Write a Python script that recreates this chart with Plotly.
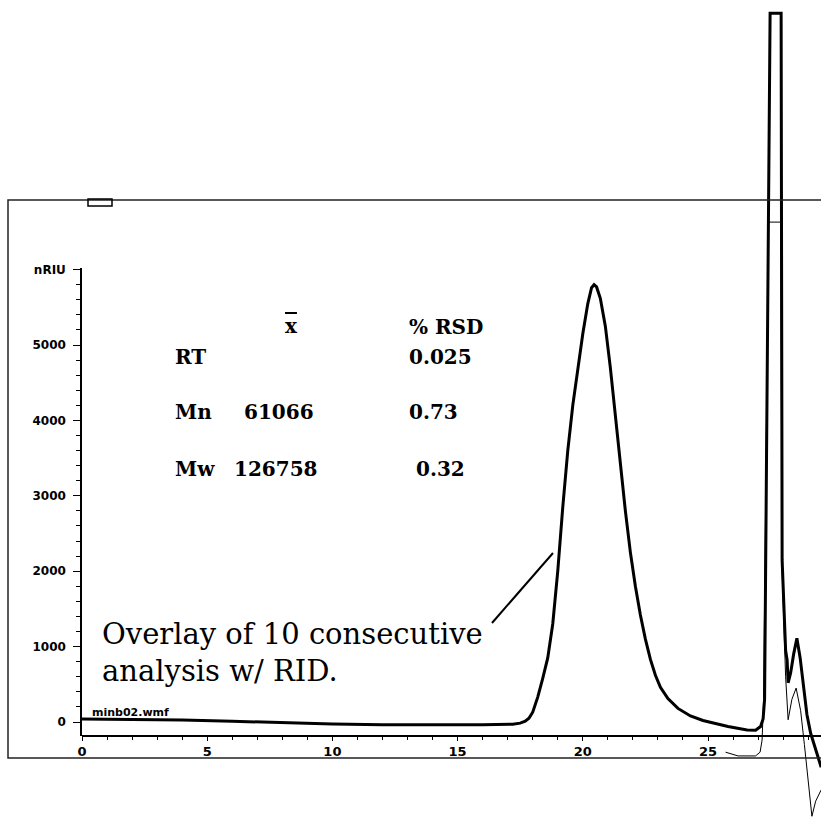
import plotly.graph_objects as go

# ---------------- data ----------------
time_main = [0, 2, 4, 6, 8, 10, 12, 14, 16, 17.2, 17.5, 17.7, 17.85, 18.0, 18.2, 18.4,
             18.6, 18.8, 19.0, 19.2, 19.4, 19.6, 19.8, 20.0, 20.2, 20.35, 20.45, 20.55,
             20.7, 20.9, 21.1, 21.3, 21.5, 21.7, 21.9, 22.1, 22.3, 22.5, 22.7, 22.9,
             23.1, 23.4, 23.8, 24.3, 24.8, 25.3, 25.8, 26.56, 26.9, 27.1, 27.2, 27.26,
             27.48, 27.92, 27.96, 28.1, 28.16, 28.2, 28.3, 28.42, 28.55, 28.68, 28.8,
             28.95, 29.1, 29.35, 29.52]
signal_main = [40, 35, 25, 10, -10, -25, -35, -38, -35, -30, -15, 10, 50, 130, 330, 580,
               850, 1300, 2000, 2850, 3600, 4200, 4700, 5150, 5550, 5760, 5800, 5770,
               5620, 5250, 4700, 4050, 3400, 2800, 2250, 1800, 1420, 1100, 830, 620,
               460, 310, 180, 80, 20, -20, -60, -106, -110, -60, 40, 300,
               9400, 9400, 2150, 950, 820, 520, 650, 900, 1110, 850, 500,
               100, -150, -420, -600]

time_thin = [25.7, 26.2, 26.9, 27.08, 27.16, 27.22, 27.42, 27.9, 27.96, 28.1, 28.2, 28.35,
             28.52, 28.7, 28.85, 29.0, 29.15, 29.3, 29.52]
signal_thin = [-400, -450, -450, -400, -240, 300, 6630, 6630, 2000, 600, 30, 300,
               450, 150, -300, -800, -1250, -1050, -900]

x_ticks = [0, 5, 10, 15, 20, 25]
y_ticks = [0, 1000, 2000, 3000, 4000, 5000, 6000]
y_tick_text = ["0", "1000", "2000", "3000", "4000", "5000", "nRIU"]

table_header = ["x", "% RSD"]
table_rows = ["RT", "Mn", "Mw"]
table_means = ["", "61066", "126758"]
table_rsd = ["0.025", "0.73", "0.32"]

note_lines = ["Overlay of 10 consecutive", "analysis w/ RID."]
file_label = "minb02.wmf"

# ---------------- layout helpers (pixel -> paper) ----------------
W, H = 821, 820


def px(x):
    return x / W


def py(y):
    return 1 - y / H


# y scale: value 0 at pixel 722, 75.4 px per 1000
def val_at(ypix):
    return (722 - ypix) / 0.0754


x_range = [0, (W - 82) / 25.04]

fig = go.Figure()
fig.add_trace(go.Scatter(x=time_main, y=signal_main, mode="lines",
                         line=dict(color="black", width=3), showlegend=False,
                         hoverinfo="skip"))
fig.add_trace(go.Scatter(x=time_thin, y=signal_thin, mode="lines",
                         line=dict(color="black", width=1), showlegend=False,
                         hoverinfo="skip"))
# empty trace so the visible y axis subplot exists
fig.add_trace(go.Scatter(x=[], y=[], xaxis="x", yaxis="y2", showlegend=False))

tick_font = dict(family="DejaVu Sans", size=12, color="black", weight="bold")

fig.update_layout(
    width=W, height=H,
    margin=dict(l=0, r=0, t=0, b=0),
    paper_bgcolor="white", plot_bgcolor="rgba(0,0,0,0)",
    showlegend=False,
    xaxis=dict(domain=[px(82), 1], range=x_range, anchor="free", position=py(736),
               showline=True, linecolor="black", linewidth=1.5, showgrid=False,
               zeroline=False, ticks="outside", ticklen=4, tickcolor="black",
               tickvals=x_ticks, tickfont=dict(family="DejaVu Sans", size=13,
                                               color="black", weight="bold"),
               minor=dict(dtick=1, ticklen=3, ticks="outside", tickcolor="black"),
               automargin=False, fixedrange=True),
    yaxis=dict(domain=[0, 1], range=[val_at(H), val_at(0)], visible=False,
               fixedrange=True),
    yaxis2=dict(domain=[py(736), py(268)], range=[val_at(736), val_at(268)],
                anchor="x", side="left", showline=True, linecolor="black",
                linewidth=1.5, showgrid=False, zeroline=False, ticks="outside",
                ticklen=7, tickcolor="black", tickvals=y_ticks, ticktext=y_tick_text,
                tickfont=tick_font, ticklabelstandoff=5,
                minor=dict(dtick=200, tick0=0, ticklen=4, ticks="outside",
                           tickcolor="black"),
                automargin=False, fixedrange=True),
)

# outer frame and small legend box of the original printout
fig.add_shape(type="rect", xref="paper", yref="paper", x0=px(8), x1=px(830),
              y0=py(758), y1=py(200), line=dict(color="#222", width=1.5))
fig.add_shape(type="rect", xref="paper", yref="paper", x0=px(88), x1=px(112),
              y0=py(206), y1=py(199), line=dict(color="black", width=1.5))
# leader line from the note to the peak flank
fig.add_shape(type="line", xref="paper", yref="paper", x0=px(492), y0=py(623),
              x1=px(553), y1=py(553), line=dict(color="black", width=2))

serif_bold = dict(family="DejaVu Serif", size=20, color="black", weight="bold")


def ann(text, x, y, font, xanchor="left"):
    fig.add_annotation(text=text, xref="paper", yref="paper", x=px(x), y=py(y),
                       xanchor=xanchor, yanchor="middle", showarrow=False, font=font)


ann(table_header[0], 291, 326, dict(serif_bold, lineposition="over"), "center")
ann(table_header[1], 407, 327, serif_bold)
row_y = [357, 412, 469]
mean_x = [279, 279, 276]
rsd_x = [407, 407, 414]
for i in range(3):
    ann(table_rows[i], 173, row_y[i], serif_bold)
    if table_means[i]:
        ann(table_means[i], mean_x[i], row_y[i], serif_bold, "center")
    ann(table_rsd[i], rsd_x[i], row_y[i], serif_bold)

note_font = dict(family="DejaVu Serif", size=29, color="black")
ann(note_lines[0], 100, 634, note_font)
ann(note_lines[1], 100, 671, note_font)

ann(file_label, 90, 712, dict(family="DejaVu Sans", size=11, color="black",
                              weight="bold"))

fig.write_html("out.html")
